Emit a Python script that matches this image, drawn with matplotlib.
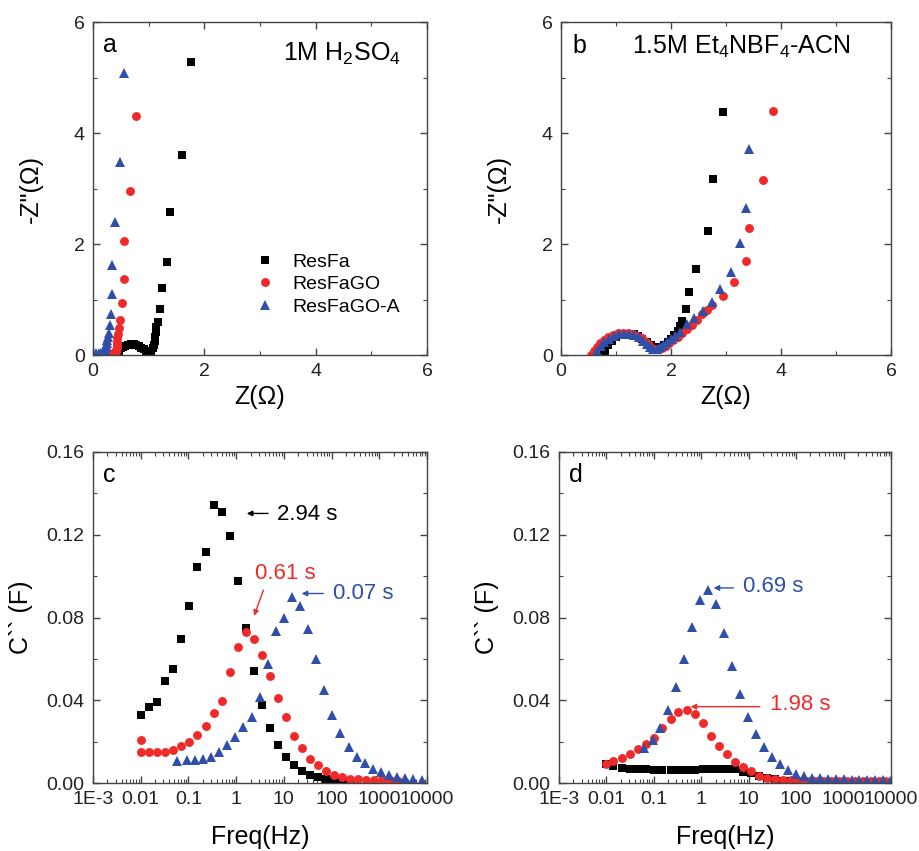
import numpy as np
import matplotlib
matplotlib.use("Agg")
import matplotlib.pyplot as plt
from matplotlib.ticker import MultipleLocator, LogLocator, FixedLocator, FuncFormatter, NullFormatter

plt.rcParams['font.family'] = ['Liberation Sans', 'DejaVu Sans']
plt.rcParams['mathtext.fontset'] = 'custom'
plt.rcParams['mathtext.rm'] = 'Liberation Sans'
plt.rcParams['mathtext.it'] = 'Liberation Sans:italic'

# ---- panel a: Nyquist, 1M H2SO4 ----
a_resfa_x = [0.42, 0.44, 0.47, 0.50, 0.54, 0.58, 0.63, 0.68, 0.73, 0.78, 0.83, 0.87, 0.91,
             0.95, 0.99, 1.02, 1.05, 1.08, 1.10, 1.11, 1.12, 1.13, 1.14, 1.16, 1.20, 1.24,
             1.335, 1.38, 1.59, 1.755]
a_resfa_y = [0.00, 0.04, 0.08, 0.12, 0.15, 0.17, 0.18, 0.19, 0.19, 0.18, 0.16, 0.13, 0.10,
             0.07, 0.06, 0.06, 0.08, 0.12, 0.18, 0.25, 0.33, 0.42, 0.50, 0.60, 0.83, 1.20,
             1.68, 2.57, 3.61, 5.28]
a_go_x = [0.30, 0.33, 0.36, 0.39, 0.41, 0.42, 0.43, 0.43, 0.44, 0.44, 0.45, 0.46, 0.48,
          0.52, 0.55, 0.56, 0.67, 0.77]
a_go_y = [0.00, 0.02, 0.04, 0.05, 0.06, 0.09, 0.13, 0.18, 0.24, 0.30, 0.37, 0.49, 0.63,
          0.93, 1.37, 2.05, 2.96, 4.31]
a_goa_x = [0.02, 0.06, 0.10, 0.14, 0.18, 0.21, 0.22, 0.23, 0.24, 0.25, 0.26, 0.27, 0.29,
           0.31, 0.33, 0.35, 0.35, 0.39, 0.48, 0.55]
a_goa_y = [0.00, 0.03, 0.04, 0.04, 0.05, 0.07, 0.10, 0.14, 0.18, 0.22, 0.27, 0.33, 0.40,
           0.54, 0.74, 1.10, 1.63, 2.39, 3.48, 5.09]

# ---- panel b: Nyquist, 1.5M Et4NBF4-ACN ----
b_resfa_x = [0.78, 0.80, 0.86, 0.93, 1.00, 1.08, 1.16, 1.24, 1.32, 1.40, 1.48, 1.56, 1.63,
             1.70, 1.76, 1.82, 1.88, 1.94, 2.00, 2.06, 2.12, 2.16, 2.20, 2.27, 2.32, 2.46,
             2.68, 2.76, 2.94]
b_resfa_y = [0.00, 0.08, 0.18, 0.26, 0.32, 0.36, 0.38, 0.38, 0.37, 0.34, 0.29, 0.23, 0.18,
             0.15, 0.14, 0.15, 0.18, 0.23, 0.29, 0.36, 0.44, 0.52, 0.61, 0.82, 1.13, 1.55,
             2.24, 3.18, 4.38]
b_go_x = [0.55, 0.60, 0.65, 0.71, 0.78, 0.86, 0.94, 1.03, 1.12, 1.21, 1.30, 1.39, 1.47,
          1.54, 1.60, 1.66, 1.72, 1.78, 1.84, 1.90, 1.97, 2.04, 2.12, 2.20, 2.29, 2.38,
          2.47, 2.56, 2.65, 2.75, 2.94, 3.14, 3.36, 3.41, 3.68, 3.85]
b_go_y = [0.00, 0.07, 0.14, 0.21, 0.27, 0.32, 0.36, 0.39, 0.40, 0.40, 0.38, 0.35, 0.30,
          0.24, 0.18, 0.13, 0.10, 0.10, 0.13, 0.16, 0.21, 0.27, 0.33, 0.39, 0.46, 0.54,
          0.63, 0.73, 0.81, 0.90, 1.06, 1.32, 1.70, 2.28, 3.16, 4.39]
b_goa_x = [0.62, 0.66, 0.72, 0.79, 0.87, 0.96, 1.05, 1.14, 1.23, 1.32, 1.41, 1.49, 1.56,
           1.62, 1.68, 1.74, 1.80, 1.86, 1.93, 2.00, 2.08, 2.17, 2.29, 2.41, 2.58, 2.75,
           2.89, 3.09, 3.26, 3.37, 3.42]
b_goa_y = [0.00, 0.08, 0.16, 0.23, 0.29, 0.34, 0.37, 0.38, 0.38, 0.36, 0.32, 0.26, 0.20,
           0.14, 0.11, 0.11, 0.14, 0.18, 0.23, 0.28, 0.34, 0.41, 0.55, 0.66, 0.79, 0.96,
           1.19, 1.49, 2.02, 2.65, 3.72]

# ---- panel c: C'' vs freq, 1M H2SO4 ----
c_resfa_f = [0.01, 0.0147, 0.0219, 0.0328, 0.048, 0.0708, 0.104, 0.153, 0.23, 0.339, 0.506,
             0.745, 1.09, 1.61, 2.37, 3.54, 5.2, 7.65, 11.3, 16.6, 24.4, 35.8, 52.6, 77.0,
             113, 166, 244]
c_resfa_c = [0.0329, 0.0369, 0.0393, 0.0492, 0.055, 0.0696, 0.0856, 0.1044, 0.1116, 0.1345,
             0.1308, 0.1194, 0.0978, 0.0747, 0.054, 0.0377, 0.0265, 0.0183, 0.0125, 0.0088,
             0.0056, 0.0040, 0.0027, 0.0020, 0.0014, 0.0010, 0.0008]
c_go_f = [0.01, 0.01, 0.0147, 0.0219, 0.0328, 0.048, 0.0708, 0.104, 0.153, 0.23, 0.339, 0.506,
          0.745, 1.09, 1.61, 2.37, 3.54, 5.2, 7.65, 11.3, 16.6, 24.4, 35.8, 52.6, 77.0, 113,
          166, 244, 358, 526, 772, 1130, 1660, 2440]
c_go_c = [0.0209, 0.0148, 0.0148, 0.0148, 0.0148, 0.0161, 0.0177, 0.0198, 0.0233, 0.0276,
          0.034, 0.0397, 0.0538, 0.0656, 0.0731, 0.0694, 0.0617, 0.0517, 0.0413, 0.0318,
          0.0228, 0.0169, 0.0117, 0.0085, 0.0056, 0.0040, 0.0029, 0.0021, 0.0018, 0.0016,
          0.0015, 0.0014, 0.0013, 0.0012]
c_goa_f = [0.0585, 0.0912, 0.137, 0.205, 0.302, 0.444, 0.653, 0.96, 1.41, 2.12, 3.12, 4.59,
           6.75, 9.93, 14.6, 21.5, 32.2, 47.2, 70.6, 104, 153, 229, 336, 495, 727, 1090,
           1600, 2350, 3450, 5150, 7700]
c_goa_c = [0.0104, 0.0109, 0.0111, 0.0117, 0.0125, 0.0152, 0.0185, 0.0222, 0.0273, 0.0321,
           0.0414, 0.0575, 0.0736, 0.0800, 0.0900, 0.0856, 0.0742, 0.0599, 0.0450, 0.0328,
           0.0241, 0.0176, 0.0128, 0.0096, 0.0069, 0.0051, 0.0037, 0.0029, 0.0022, 0.0019,
           0.0015]

# ---- panel d: C'' vs freq, 1.5M Et4NBF4-ACN ----
d_resfa_f = [0.0096, 0.0139, 0.0208, 0.031, 0.046, 0.0687, 0.102, 0.152, 0.228, 0.34, 0.49,
             0.72, 1.07, 1.58, 2.35, 3.45, 5.16, 7.43, 11.1, 16.5, 24.3, 35.7, 52.3, 78.0]
d_resfa_c = [0.0093, 0.0080, 0.0074, 0.0070, 0.0067, 0.0067, 0.0064, 0.0064, 0.0061, 0.0061,
             0.0061, 0.0064, 0.0066, 0.0069, 0.0070, 0.0070, 0.0067, 0.0053, 0.0048, 0.0035,
             0.0025, 0.0018, 0.0012, 0.0009]
d_go_f = [0.0096, 0.0139, 0.0208, 0.031, 0.046, 0.0687, 0.102, 0.152, 0.228, 0.329, 0.49,
          0.72, 1.07, 1.58, 2.35, 3.45, 5.16, 7.43, 11.1, 16.4, 24.3, 35.7, 52.3, 78.0, 115,
          170, 250, 370, 545, 800, 1180, 1740, 2560, 3770, 5550, 7300]
d_go_c = [0.0093, 0.0104, 0.0120, 0.0140, 0.0164, 0.0190, 0.0217, 0.0265, 0.0310, 0.0344,
          0.0353, 0.0334, 0.0289, 0.0229, 0.0180, 0.0141, 0.0101, 0.0077, 0.0056, 0.0035,
          0.0026, 0.0019, 0.0016, 0.0013, 0.0012, 0.0011, 0.0010, 0.0010, 0.0009, 0.0009,
          0.0009, 0.0008, 0.0008, 0.0008, 0.0008, 0.0008]
d_goa_f = [0.0634, 0.0944, 0.136, 0.194, 0.29, 0.432, 0.645, 0.93, 1.39, 2.03, 2.99, 4.47,
           6.56, 9.45, 14.1, 21.0, 30.9, 45.3, 66.5, 97.7, 146, 215, 315, 460, 680, 1000,
           1470, 2160, 3170, 4650, 6800, 9300]
d_goa_c = [0.0169, 0.0209, 0.0265, 0.0353, 0.0463, 0.0598, 0.0752, 0.0884, 0.0932, 0.0864,
           0.0726, 0.0565, 0.0430, 0.0321, 0.0238, 0.0176, 0.0128, 0.0093, 0.0064, 0.0043,
           0.0032, 0.0026, 0.0022, 0.0020, 0.0018, 0.0017, 0.0016, 0.0015, 0.0014, 0.0013,
           0.0013, 0.0012]

series_labels = ['ResFa', 'ResFaGO', 'ResFaGO-A']
BLACK, RED, BLUE = '#000000', '#ee2a2a', '#2f4fa8'
styles = [dict(marker='s', color=BLACK, ms=6.0),
          dict(marker='o', color=RED, ms=6.4),
          dict(marker='^', color=BLUE, ms=7.4)]

log_labels = {1e-3: '1E-3', 1e-2: '0.01', 1e-1: '0.1', 1: '1', 10: '10',
              100: '100', 1000: '1000', 10000: '10000'}

fig = plt.figure(figsize=(9.19, 8.51), dpi=100)
W, H = 919, 851


def px_axes(l, r, t, b):
    return fig.add_axes([l / W, 1 - b / H, (r - l) / W, (b - t) / H])


ax_a = px_axes(93, 427, 22, 355)
ax_b = px_axes(561, 891, 22, 355)
ax_c = px_axes(93, 427, 452, 783)
ax_d = px_axes(559, 891, 452, 783)


def style_axes(ax):
    for s in ax.spines.values():
        s.set_color('#444444')
        s.set_linewidth(1.0)
    ax.tick_params(which='both', direction='in', top=True, right=True, colors='#444444',
                   labelcolor='#222222', labelsize=14)
    ax.tick_params(which='major', length=5, width=1.0, pad=6)
    ax.tick_params(which='minor', length=3, width=0.8)


def scatter3(ax, xs, ys, with_label=False):
    for x, y, st, lab in zip(xs, ys, styles, series_labels):
        ax.plot(x, y, linestyle='none', marker=st['marker'], color=st['color'],
                markersize=st['ms'], markeredgewidth=0, label=lab if with_label else None)


# Nyquist panels
scatter3(ax_a, [a_resfa_x, a_go_x, a_goa_x], [a_resfa_y, a_go_y, a_goa_y], with_label=True)
scatter3(ax_b, [b_resfa_x, b_go_x, b_goa_x], [b_resfa_y, b_go_y, b_goa_y])
for ax in (ax_a, ax_b):
    ax.set_xlim(0, 6)
    ax.set_ylim(0, 6)
    ax.xaxis.set_major_locator(MultipleLocator(2))
    ax.xaxis.set_minor_locator(MultipleLocator(1))
    ax.yaxis.set_major_locator(MultipleLocator(2))
    ax.yaxis.set_minor_locator(MultipleLocator(1))
    style_axes(ax)
    ax.set_xlabel('Z(\u03a9)', fontsize=18, labelpad=3)
    ax.set_ylabel('-Z"(\u03a9)', fontsize=18, labelpad=22)

ax_a.legend(loc='upper left', bbox_to_anchor=(0.44, 0.335), frameon=False, fontsize=14,
            handletextpad=0.6, labelspacing=0.25, borderpad=0, handlelength=1.6)
ax_a.text(0.03, 0.93, 'a', transform=ax_a.transAxes, fontsize=18, va='center')
ax_a.text(0.57, 0.905, '1M H$_2$SO$_4$', transform=ax_a.transAxes, fontsize=18, va='center')
ax_b.text(0.035, 0.928, 'b', transform=ax_b.transAxes, fontsize=18, va='center')
ax_b.text(0.215, 0.925, '1.5M Et$_4$NBF$_4$-ACN', transform=ax_b.transAxes, fontsize=18,
          va='center')

# Capacitance panels
scatter3(ax_c, [c_resfa_f, c_go_f, c_goa_f], [c_resfa_c, c_go_c, c_goa_c])
scatter3(ax_d, [d_resfa_f, d_go_f, d_goa_f], [d_resfa_c, d_go_c, d_goa_c])
for ax in (ax_c, ax_d):
    ax.set_xscale('log')
    ax.set_xlim(1e-3, 1e4)
    ax.set_ylim(0, 0.16)
    ax.xaxis.set_major_locator(FixedLocator(list(log_labels.keys())))
    ax.xaxis.set_major_formatter(FuncFormatter(lambda v, p: log_labels.get(
        min(log_labels, key=lambda k: abs(np.log10(k) - np.log10(v))), '')))
    ax.xaxis.set_minor_locator(LogLocator(base=10, subs=np.arange(2, 10), numticks=20))
    ax.xaxis.set_minor_formatter(NullFormatter())
    ax.yaxis.set_major_locator(MultipleLocator(0.04))
    ax.yaxis.set_minor_locator(MultipleLocator(0.02))
    ax.yaxis.set_major_formatter(FuncFormatter(lambda v, p: '%.2f' % v))
    style_axes(ax)
    ax.set_xlabel('Freq(Hz)', fontsize=18, labelpad=12)
    ax.set_ylabel('C`` (F)', fontsize=18, labelpad=10)

ax_c.text(0.03, 0.93, 'c', transform=ax_c.transAxes, fontsize=18, va='center')
ax_d.text(0.03, 0.93, 'd', transform=ax_d.transAxes, fontsize=18, va='center')


def callout(ax, text, color, tail, head, text_xy):
    ax.annotate('', xy=head, xytext=tail,
                arrowprops=dict(arrowstyle='-|>', color=color, lw=1.0,
                                mutation_scale=8, shrinkA=0, shrinkB=0))
    ax.text(text_xy[0], text_xy[1], text, color=color, fontsize=16, va='center', ha='left')


callout(ax_c, '2.94 s', BLACK, (4.66, 0.1303), (1.67, 0.1303), (7.08, 0.130))
callout(ax_c, '0.61 s', RED, (3.72, 0.0932), (2.37, 0.0808), (2.48, 0.1015))
callout(ax_c, '0.07 s', BLUE, (67.2, 0.0916), (23.6, 0.0916), (105.7, 0.0918))
callout(ax_d, '0.69 s', BLUE, (4.75, 0.0943), (1.82, 0.0943), (7.67, 0.0950))
callout(ax_d, '1.98 s', RED, (17.1, 0.0369), (0.595, 0.0369), (27.7, 0.0380))

fig.savefig('out.png', dpi=100)
